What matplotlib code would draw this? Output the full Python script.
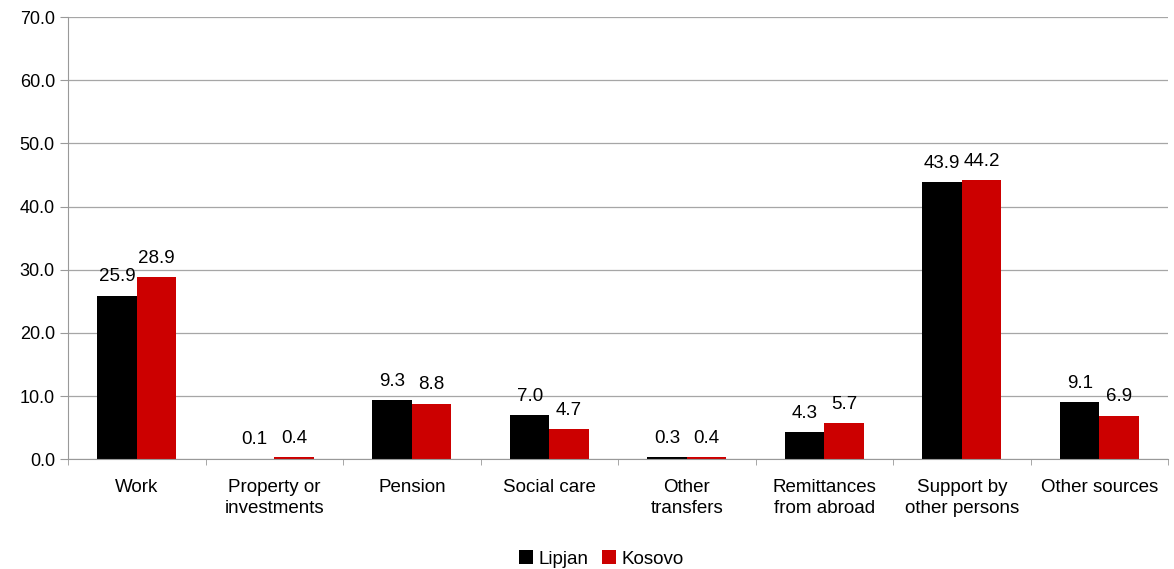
import matplotlib.pyplot as plt
import numpy as np

plt.rcParams['font.family'] = ['Liberation Sans', 'DejaVu Sans']

categories = ['Work', 'Property or\ninvestments', 'Pension', 'Social care',
              'Other\ntransfers', 'Remittances\nfrom abroad', 'Support by\nother persons',
              'Other sources']
lipjan = [25.9, 0.1, 9.3, 7.0, 0.3, 4.3, 43.9, 9.1]
kosovo = [28.9, 0.4, 8.8, 4.7, 0.4, 5.7, 44.2, 6.9]

fig = plt.figure(figsize=(11.74, 5.69), dpi=100)
ax = fig.add_axes([0.058, 0.193, 0.937, 0.777])

x = np.arange(len(categories))
w = 0.287
b1 = ax.bar(x - w / 2, lipjan, w, color='#000000', label='Lipjan', zorder=3)
b2 = ax.bar(x + w / 2, kosovo, w, color='#cc0000', label='Kosovo', zorder=3)

for bars, vals in ((b1, lipjan), (b2, kosovo)):
    for b, v in zip(bars, vals):
        ax.text(b.get_x() + b.get_width() / 2, v + 1.6, f'{v:.1f}',
                ha='center', va='bottom', fontsize=13.5)

ax.set_xlim(-0.5, len(categories) - 0.5)
ax.set_ylim(0, 70)
ax.set_yticks(np.arange(0, 71, 10))
ax.set_yticklabels([f'{v:.1f}' for v in np.arange(0, 71, 10)], fontsize=13)
ax.set_xticks(x)
ax.set_xticklabels(categories, fontsize=13.5, linespacing=1.35)
ax.tick_params(axis='x', length=0, pad=14)
ax.set_xticks(np.arange(-0.5, len(categories), 1), minor=True)
ax.tick_params(axis='x', which='minor', length=4, color='#999999')
ax.tick_params(axis='y', length=6, color='#999999')
ax.yaxis.grid(True, color='#a6a6a6', linewidth=0.9, zorder=0)
ax.set_axisbelow(True)

for s in ('top', 'right'):
    ax.spines[s].set_visible(False)
for s in ('left', 'bottom'):
    ax.spines[s].set_color('#999999')
ax.spines['bottom'].set_zorder(4)

ax.legend(loc='lower center', bbox_to_anchor=(0.485, -0.275), ncol=2, frameon=False,
          fontsize=13.5, handlelength=0.75, handleheight=0.75, handletextpad=0.3,
          columnspacing=0.7, borderpad=0.2)

fig.savefig('out.png')
